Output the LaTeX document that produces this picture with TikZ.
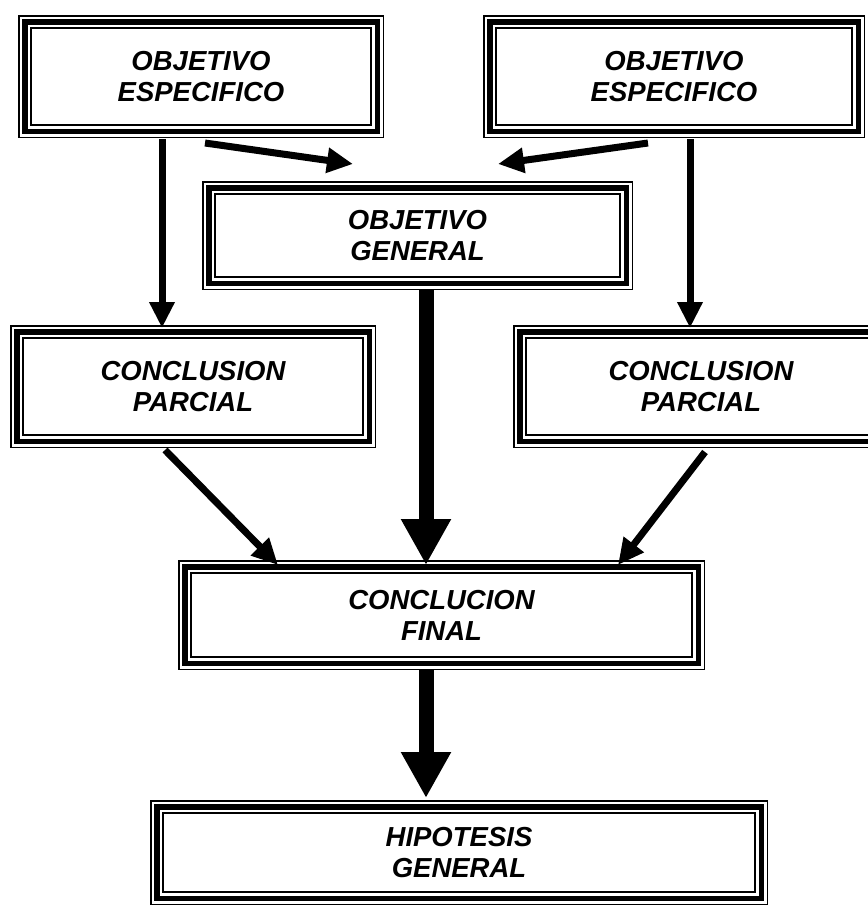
\documentclass[tikz,border=0pt]{standalone}
\usepackage{fontspec}
\setmainfont{Liberation Sans}
\usetikzlibrary{arrows.meta}
\tikzset{
  tribox/.style={rectangle, inner sep=0pt, outer sep=0pt, align=center,
    font=\fontsize{27.5}{31}\selectfont\bfseries\itshape,
    path picture={
      \draw[line width=1.5pt]
        ([shift={(0.75pt,-0.75pt)}]path picture bounding box.north west) rectangle
        ([shift={(-0.75pt,0.75pt)}]path picture bounding box.south east);
      \draw[line width=5.5pt]
        ([shift={(6.75pt,-6.75pt)}]path picture bounding box.north west) rectangle
        ([shift={(-6.75pt,6.75pt)}]path picture bounding box.south east);
      \draw[line width=2pt]
        ([shift={(13pt,-13pt)}]path picture bounding box.north west) rectangle
        ([shift={(-13pt,13pt)}]path picture bounding box.south east);
    }},
  thinarrow/.style={line width=7pt, -{Triangle[length=26pt,width=24pt]}},
  thickarrow/.style={line width=15pt, -{Triangle[length=46pt,width=47pt]}}
}
\begin{document}
\begin{tikzpicture}[x=1pt,y=-1pt]
\fill[white] (0,0) rectangle (868,906);
\useasboundingbox (0,0) rectangle (868,906);

\node[tribox, minimum width=366pt, minimum height=123pt] (oe1) at (201,76.5) {OBJETIVO\\ESPECIFICO};
\node[tribox, minimum width=382pt, minimum height=123pt] (oe2) at (674,76.5) {OBJETIVO\\ESPECIFICO};
\node[tribox, minimum width=431pt, minimum height=109pt] (og) at (417.5,235.5) {OBJETIVO\\GENERAL};
\node[tribox, minimum width=366pt, minimum height=123pt] (cp1) at (193,386.5) {CONCLUSION\\PARCIAL};
\node[tribox, minimum width=376pt, minimum height=123pt] (cp2) at (701,386.5) {CONCLUSION\\PARCIAL};
\node[tribox, minimum width=527pt, minimum height=110pt] (cf) at (441.5,615) {CONCLUCION\\FINAL};
\node[tribox, minimum width=618pt, minimum height=105pt] (hg) at (459,852.5) {HIPOTESIS\\GENERAL};

\coordinate (a1s) at (162,139);  \coordinate (a1e) at (162,328);
\coordinate (a2s) at (205,143);  \coordinate (a2e) at (353,164);
\coordinate (a3s) at (648,143);  \coordinate (a3e) at (498,164);
\coordinate (a4s) at (690,139);  \coordinate (a4e) at (690,328);
\coordinate (a5s) at (426,290);  \coordinate (a5e) at (426,565);
\coordinate (a6s) at (165,450);  \coordinate (a6e) at (278,565);
\coordinate (a7s) at (705,452);  \coordinate (a7e) at (618,565);
\coordinate (a8s) at (426,670);  \coordinate (a8e) at (426,798);

\draw[thinarrow] (a1s) -- (a1e);
\draw[thinarrow] (a2s) -- (a2e);
\draw[thinarrow] (a3s) -- (a3e);
\draw[thinarrow] (a4s) -- (a4e);
\draw[thickarrow] (a5s) -- (a5e);
\draw[thinarrow] (a6s) -- (a6e);
\draw[thinarrow] (a7s) -- (a7e);
\draw[thickarrow] (a8s) -- (a8e);
\end{tikzpicture}
\end{document}
